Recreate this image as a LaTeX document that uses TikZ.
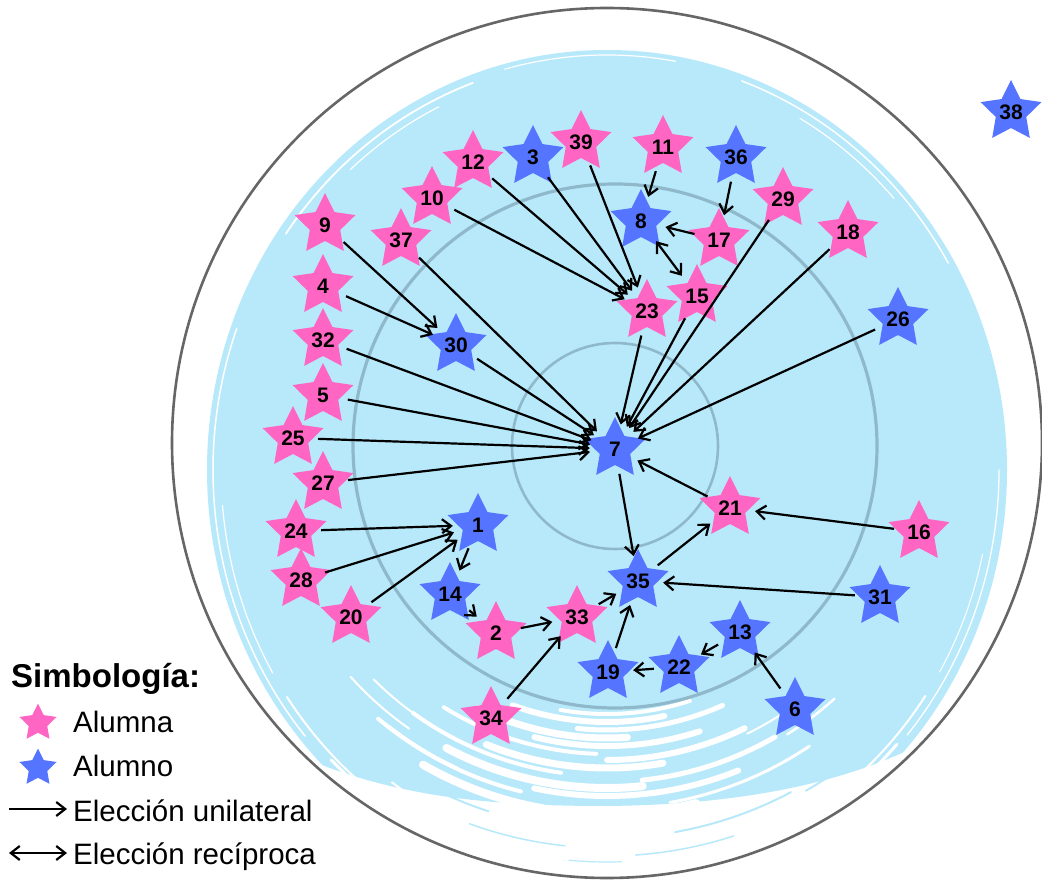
\documentclass[tikz,border=0pt]{standalone}
\usepackage{fontspec}
\setmainfont{Liberation Sans}
\usetikzlibrary{shapes.geometric,arrows.meta}
\definecolor{pinkc}{HTML}{FF66C4}
\definecolor{bluec}{HTML}{5574FF}
\definecolor{skyc}{HTML}{B7E9FB}
\definecolor{ringc}{HTML}{86AEBE}
\definecolor{outerc}{HTML}{666666}
\begin{document}
\begin{tikzpicture}[x=1pt,y=-1pt,
  starbase/.style={shape=star,star points=5,star point ratio=2.0,minimum size=64pt,inner sep=0pt,draw=none},
  fem/.style={starbase,fill=pinkc},
  mas/.style={starbase,fill=bluec},
  lbl/.style={circle,minimum size=50pt,inner sep=0pt,font=\bfseries\fontsize{21}{21}\selectfont},
  tipb/.tip={Straight Barb[length=9pt,width=14pt,line width=2.2pt]},
  uni/.style={-tipb,line width=2.2pt,black},
  rec/.style={tipb-tipb,line width=2.2pt,black},
  legtext/.style={anchor=base west,inner sep=0pt,font=\fontsize{29.5}{29.5}\selectfont},
  brush/.style={white,line cap=round},
  streak/.style={skyc,line cap=round}
]
\useasboundingbox (0,0) rectangle (1042,882);
\fill[white] (0,0) rectangle (1042,882);
% blue background
\begin{scope}
  \clip (0,0) -- (1042,0) -- (1042,640) .. controls (960,760) and (800,804) .. (607,806)
        .. controls (450,806) and (330,790) .. (200,700) -- (0,700) -- cycle;
  \fill[skyc] (607,470) ellipse[x radius=400,y radius=420];
\end{scope}
% faint streaks below
\foreach \r/\a/\b/\w in {392/62/80/2, 402/96/110/1.5, 384/108/126/2, 410/72/86/1.5,
  398/50/60/2, 376/126/134/1.5, 416/88/96/1.2}
  \draw[streak,line width=\w pt] (607,446) ++(\a:\r) arc[start angle=\a,end angle=\b,radius=\r];
% white brush strokes at the bottom
\foreach \r/\a/\b/\w in {268/72/100/4, 276/78/110/6, 284/66/96/5, 292/86/116/7, 300/72/104/6,
  308/92/122/4, 314/64/90/6, 322/80/112/7, 330/98/126/4, 336/60/84/5, 342/84/118/8,
  350/68/102/6, 356/104/130/4, 362/56/80/3, 368/76/120/8, 330/120/135/2, 345/125/138/2,
  355/115/128/2.5, 320/54/64/2, 340/48/58/2.5}
  \draw[brush,line width=\w pt] (607,446) ++(\a:\r) arc[start angle=\a,end angle=\b,radius=\r];
% white strokes along the rim of the blue area
\foreach \d/\a/\b/\w in {6/140/200/1.5, 14/150/175/1.2, 8/215/250/1.8, 16/228/244/1.2,
  6/290/330/1.5, 14/300/318/1.2, 8/0/40/1.3, 16/12/30/1, 5/255/280/1.2,
  10/100/135/3, 22/108/128/2.5, 34/112/126/2, 14/122/146/2, 28/96/112/2,
  10/42/80/3, 22/50/72/2.5, 34/56/70/2, 16/34/52/2, 28/66/84/2}
  \draw[brush,line width=\w pt] (607,470) ++(\a:{400-\d} and {420-\d})
    arc[start angle=\a,end angle=\b,x radius={400-\d},y radius={420-\d}];
% rings
\draw[outerc,line width=2.6pt] (607,443) circle (435);
\draw[ringc,line width=3.2pt,opacity=0.8] (615,446) circle (262);
\draw[ringc,line width=2.6pt,opacity=0.8] (615,446) circle (103);
% stars
\foreach \n/\x/\y/\t in {38/1011/112/mas, 3/533/157/mas, 39/581/142/fem, 11/663/147/fem,
  36/736/157/mas, 12/473/162/fem, 10/432/198/fem, 29/783/199/fem, 9/325/225/fem,
  37/401/240/fem, 8/641/221/mas, 17/719/240/fem, 18/848/232/fem, 4/323/286/fem,
  23/647/311/fem, 15/697/296/fem, 26/898/319/mas, 32/323/340/fem, 30/456/345/mas,
  5/323/395/fem, 25/293/438/fem, 7/615/449/mas, 27/323/483/fem, 21/730/508/fem,
  16/919/532/fem, 24/296/531/fem, 1/478/525/mas, 28/301/580/fem, 14/450/594/mas,
  20/351/617/fem, 35/638/581/mas, 31/880/597/mas, 2/496/633/fem, 33/577/617/fem,
  13/740/632/mas, 22/679/667/mas, 19/608/672/mas, 34/491/718/fem, 6/795/709/mas}
{
  \node[\t] (s\n) at (\x,\y) {};
  \node[lbl] (n\n) at (\x,\y) {\n};
}
% connectors
\foreach \a/\b in {3/23, 39/23, 12/23, 10/23, 11/8, 36/17, 17/8, 15/7, 23/7, 29/7, 18/7,
  26/7, 9/30, 4/30, 30/7, 37/7, 32/7, 5/7, 25/7, 27/7, 21/7, 16/21, 35/21, 7/35,
  24/1, 28/1, 20/1, 1/14, 14/2, 2/33, 34/33, 33/35, 31/35, 19/35, 13/22, 22/19, 6/13}
  \draw[uni] (n\a) -- (n\b);
\draw[rec] (n8) -- (n15);
% legend
\node[anchor=base west,inner sep=0pt,font=\bfseries\fontsize{33}{33}\selectfont] (lh) at (11,687) {Simbología:};
\node[fem,minimum size=39pt] (lf) at (38,723) {};
\node[legtext] (lt1) at (73,732) {Alumna};
\node[mas,minimum size=39pt] (lm) at (38,768) {};
\node[legtext] (lt2) at (73,776) {Alumno};
\coordinate (u1) at (9,809);
\coordinate (u2) at (67,809);
\draw[uni] (u1) -- (u2);
\node[legtext] (lt3) at (73,821) {Elección unilateral};
\coordinate (r1) at (9,853);
\coordinate (r2) at (67,853);
\draw[rec] (r1) -- (r2);
\node[legtext] (lt4) at (73,864) {Elección recíproca};
\end{tikzpicture}
\end{document}
